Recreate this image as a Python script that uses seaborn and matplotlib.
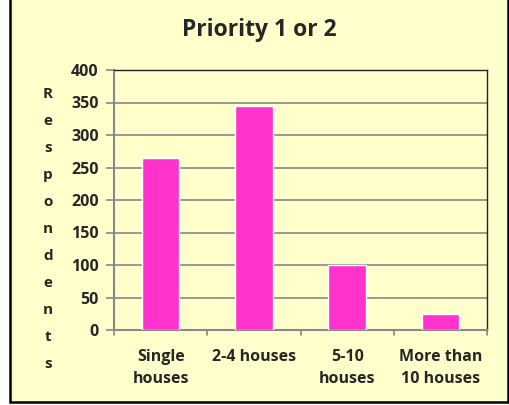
import matplotlib
matplotlib.use("Agg")
import matplotlib.pyplot as plt
import seaborn as sns
import pandas as pd
from matplotlib.patches import Rectangle

categories = ["Single\nhouses", "2-4 houses", "5-10\nhouses", "More than\n10 houses"]
values = [265, 345, 100, 25]
title = "Priority 1 or 2"
ylabel = "R\ne\ns\np\no\nn\nd\ne\nn\nt\ns"
yticks = [0, 50, 100, 150, 200, 250, 300, 350, 400]

sns.set_theme(style="white")
plt.rcParams['font.family'] = ['Open Sans', 'DejaVu Sans']
plt.rcParams['font.weight'] = 'bold'

bg = "#FFFFCC"
df = pd.DataFrame({"cat": categories, "val": values})

fig = plt.figure(figsize=(5.09, 4.05), dpi=100)
fig.patch.set_facecolor("white")
fig.patches.append(Rectangle((9.5/509, 3.5/405), (509-9.5)/509 - 1.5/509, 1.2, transform=fig.transFigure,
                             facecolor=bg, edgecolor="black", linewidth=1.8, zorder=-10))

ax = fig.add_axes([114/509, (405-330)/405, (487-114)/509, 260/405])
ax.set_facecolor(bg)
sns.barplot(data=df, x="cat", y="val", color="#FF33CC", width=0.4, saturation=1, ax=ax, zorder=3)

ax.set_ylim(0, 400)
ax.set_xlim(-0.5, 3.5)
ax.set_yticks(yticks)
ax.set_yticklabels([str(t) for t in yticks], fontsize=11.5, fontweight='bold')
ax.yaxis.grid(True, color="#888888", linewidth=1.2, zorder=0)
ax.set_axisbelow(True)

ax.set_xticks([0, 1, 2, 3])
ax.set_xticklabels(categories, fontsize=11.5, fontweight='bold', linespacing=1.5)
ax.tick_params(axis='x', length=0, pad=14)
ax.tick_params(axis='y', length=6, width=1.2, color="#888888", left=True, pad=5)
for b in [-0.5, 0.5, 1.5, 2.5, 3.5]:
    ax.plot([b, b], [0, -0.02], transform=ax.get_xaxis_transform(), color="#888888",
            linewidth=1.2, clip_on=False)

for s in ["left", "bottom"]:
    ax.spines[s].set_color("#888888")
    ax.spines[s].set_linewidth(1.5)
for s in ["top", "right"]:
    ax.spines[s].set_color("#222222")
    ax.spines[s].set_linewidth(1.0)

ax.set_xlabel("")
ax.set_ylabel("")
fig.text(48/509, 1 - 229/405, ylabel, ha="center", va="center", fontsize=11,
         fontweight='bold', linespacing=2.19)
fig.text(259/509, 1 - 30/405, title, ha="center", va="center", fontsize=16.5, fontweight='bold')

fig.savefig("out.png", dpi=100, facecolor=fig.get_facecolor())
